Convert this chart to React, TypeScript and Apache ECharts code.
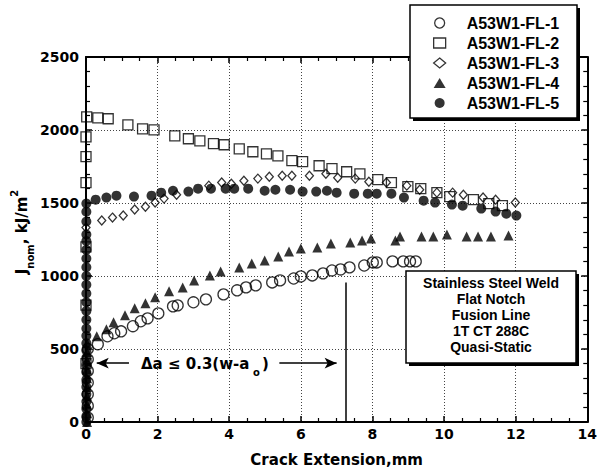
import React, { useEffect, useRef } from "react";
import * as echarts from "echarts";

const seriesNames = ["A53W1-FL-1", "A53W1-FL-2", "A53W1-FL-3", "A53W1-FL-4", "A53W1-FL-5"];

// Crack extension (mm), J (kJ/m^2)
const fl1: number[][] = [
  [0.05, 30], [0.05, 110], [0.05, 190], [0.05, 270], [0.05, 350], [0.05, 430], [0.05, 500],
  [0.33, 533], [0.6, 587], [0.79, 608], [0.98, 621], [1.31, 656], [1.53, 690], [1.72, 710],
  [2.02, 744], [2.43, 792], [2.56, 799], [3.0, 820], [3.35, 840], [3.84, 874], [4.22, 902],
  [4.47, 922], [4.74, 936], [5.2, 956], [5.42, 970], [5.8, 983], [6.0, 997], [6.32, 1004],
  [6.62, 1018], [6.87, 1038], [7.11, 1045], [7.36, 1059], [7.77, 1072], [8.01, 1093],
  [8.12, 1093], [8.56, 1100], [8.86, 1100], [9.05, 1100], [9.21, 1100],
];
const fl2: number[][] = [
  [0, 400], [0, 800], [0, 1200], [0, 1640], [0, 1817], [0, 1953], [0.02, 2090],
  [0.33, 2083], [0.62, 2077], [1.17, 2035], [1.58, 2008], [1.9, 2001], [2.48, 1960],
  [2.86, 1940], [3.18, 1926], [3.56, 1906], [3.86, 1899], [4.28, 1871], [4.66, 1851],
  [5.04, 1837], [5.36, 1823], [5.75, 1790], [6.05, 1783], [6.51, 1755], [6.87, 1735],
  [7.28, 1714], [7.65, 1700], [8.15, 1660], [8.53, 1640], [8.99, 1612], [9.35, 1598],
  [9.8, 1571], [10.16, 1544], [10.82, 1523], [11.25, 1496], [11.63, 1482],
];
const fl3: number[][] = [
  [0, 1332], [0.44, 1380], [0.74, 1400], [1.04, 1414], [1.36, 1455], [1.66, 1475],
  [1.93, 1503], [2.18, 1530], [2.53, 1557], [3.43, 1619], [3.79, 1640], [4.06, 1632],
  [4.41, 1653], [4.8, 1667], [5.12, 1680], [5.48, 1687], [5.75, 1687], [6.24, 1687],
  [6.7, 1700], [7.03, 1673], [7.52, 1667], [7.9, 1646], [8.39, 1640], [8.96, 1619],
  [9.32, 1591], [9.8, 1571], [10.24, 1571], [10.54, 1557], [11.09, 1537], [11.44, 1523],
  [11.99, 1503],
];
const fl4: number[][] = [
  [0.03, 0], [0.03, 60], [0.03, 120], [0.03, 180], [0.03, 240], [0.03, 300], [0.03, 360],
  [0.03, 420], [0.03, 480], [0.03, 540],
  [0.3, 587], [0.57, 635], [0.77, 683], [1.09, 731], [1.36, 779], [1.66, 813], [1.93, 854],
  [2.32, 895], [2.7, 922], [3.02, 970], [3.46, 1004], [3.76, 1031], [4.28, 1059],
  [4.63, 1086], [4.99, 1106], [5.37, 1134], [5.67, 1168], [6.0, 1188], [6.46, 1195],
  [6.84, 1223], [7.38, 1229], [7.71, 1243], [7.96, 1257], [8.64, 1243], [8.77, 1270],
  [9.37, 1270], [9.7, 1270], [10.08, 1284], [10.63, 1270], [10.95, 1270], [11.31, 1270],
  [11.8, 1277],
];
const fl5: number[][] = [
  [0.01, 0], [0.01, 40], [0.01, 90], [0.01, 140], [0.01, 190], [0.01, 240], [0.01, 290],
  [0.01, 340], [0.01, 390], [0.01, 440], [0.01, 490], [0.01, 540], [0.01, 590], [0.01, 640],
  [0.01, 700], [0.01, 760], [0.01, 820], [0.01, 880], [0.01, 940], [0.01, 1000],
  [0.01, 1060], [0.01, 1120], [0.01, 1180], [0.01, 1240], [0.01, 1284], [0.01, 1373],
  [0.01, 1440], [0.01, 1496],
  [0.27, 1523], [0.57, 1537], [0.85, 1550], [1.34, 1544], [1.83, 1550], [2.1, 1571],
  [2.43, 1584], [2.86, 1578], [3.13, 1598], [3.49, 1598], [3.9, 1598], [4.14, 1598],
  [4.53, 1598], [4.99, 1584], [5.29, 1591], [5.7, 1591], [6.05, 1578], [6.43, 1578],
  [6.73, 1584], [7.0, 1571], [7.49, 1564], [7.87, 1564], [8.12, 1564], [8.53, 1564],
  [8.88, 1537], [9.43, 1516], [9.75, 1503], [10.22, 1489], [10.52, 1482], [11.04, 1462],
  [11.44, 1441], [11.74, 1427], [12.02, 1414],
];

// annotation lines (data coordinates)
const limitLineX = 7.25;
const limitLineTop = 956;
const arrowY = 403;
const leftArrow = [1.2, 0.3];
const rightArrow = [5.4, 7.0];

const boxLines = ["Stainless Steel Weld", "Flat Notch", "Fusion Line", "1T CT 288C", "Quasi-Static"];

const BOLD_LAB = "'DejaVu Sans', sans-serif";
const BOLD_LEG = "'Liberation Sans', Arial, sans-serif";

export default function App() {
  const ref = useRef<HTMLDivElement>(null);
  useEffect(() => {
    const chart = echarts.init(ref.current!, null, { renderer: "svg" });
    const openStyle = { color: "rgba(255,255,255,0)", borderColor: "#000", borderWidth: 1.3 };
    const fillStyle = { color: "#000", borderColor: "#000", borderWidth: 0 };
    const symbols = ["circle", "rect", "diamond", "triangle", "circle"];
    const sizes: any[] = [11, 10, [8, 9], 10, 10];
    const styles = [openStyle, openStyle, openStyle, fillStyle, fillStyle];
    const datas = [fl1, fl2, fl3, fl4, fl5];

    const series: any[] = datas.map((d, i) => ({
      type: "scatter",
      name: seriesNames[i],
      data: d,
      symbol: symbols[i],
      symbolSize: sizes[i],
      itemStyle: styles[i],
      clip: false,
      silent: true,
      z: 3 + i,
    }));
    series[0].markLine = {
      silent: true,
      symbol: ["none", "arrow"],
      symbolSize: [8, 12],
      label: { show: false },
      lineStyle: { color: "#000", type: "solid", width: 1.5 },
      emphasis: { disabled: true },
      data: [
        [{ coord: [leftArrow[0], arrowY] }, { coord: [leftArrow[1], arrowY] }],
        [{ coord: [rightArrow[0], arrowY] }, { coord: [rightArrow[1], arrowY] }],
        [
          { coord: [limitLineX, 0], symbol: "none" },
          { coord: [limitLineX, limitLineTop], symbol: "none" },
        ],
      ],
    };

    const axisCommon = {
      axisLine: { show: true, onZero: false, lineStyle: { color: "#000", width: 2 } },
      axisTick: { show: true, inside: true, length: 6, lineStyle: { color: "#000", width: 1.5 } },
      minorTick: { show: true, length: 4, lineStyle: { color: "#000", width: 1.2 } },
    };
    const labelStyle = {
      color: "#000", fontFamily: BOLD_LAB, fontWeight: "bold", fontSize: 14,
      formatter: (v: number) => String(v),
    };
    const splitStyle = { show: true, lineStyle: { color: "#444", type: [1, 2], width: 1 } };
    const titleFont = `bold 15px ${BOLD_LAB}`;
    const subFont = `bold 10px ${BOLD_LAB}`;

    const option: any = {
      animation: false,
      backgroundColor: "#fff",
      grid: { left: 86, top: 57, width: 512, height: 366, containLabel: false },
      xAxis: [
        {
          type: "value", min: 0, max: 14, interval: 2, position: "bottom",
          ...axisCommon,
          minorTick: { ...axisCommon.minorTick, splitNumber: 4 },
          axisLabel: { ...labelStyle, margin: 5 },
          splitLine: splitStyle,
          name: "Crack Extension,mm",
          nameLocation: "middle",
          nameGap: 30,
          nameTextStyle: { color: "#000", fontFamily: BOLD_LAB, fontWeight: "bold", fontSize: 15 },
        },
        {
          type: "value", min: 0, max: 14, interval: 2, position: "top",
          ...axisCommon,
          minorTick: { ...axisCommon.minorTick, splitNumber: 4 },
          axisLabel: { show: false },
          splitLine: { show: false },
        },
      ],
      yAxis: [
        {
          type: "value", min: 0, max: 2500, interval: 500, position: "left",
          ...axisCommon,
          minorTick: { ...axisCommon.minorTick, splitNumber: 5 },
          axisLabel: { ...labelStyle, margin: 7 },
          splitLine: splitStyle,
        },
        {
          type: "value", min: 0, max: 2500, interval: 500, position: "right",
          ...axisCommon,
          minorTick: { ...axisCommon.minorTick, splitNumber: 5 },
          axisLabel: { show: false },
          splitLine: { show: false },
        },
      ],
      legend: {
        orient: "vertical",
        left: 433,
        top: 14,
        padding: 0,
        itemWidth: 12,
        itemHeight: 10,
        itemGap: 2,
        z: 60,
        selectedMode: false,
        textStyle: {
          color: "#000", fontFamily: BOLD_LEG, fontWeight: "bold", fontSize: 16,
          lineHeight: 18, padding: [0, 0, 0, 16],
        },
        data: seriesNames.map((n, i) => ({
          name: n,
          icon: symbols[i],
          itemStyle: styles[i],
        })),
      },
      graphic: [
        { type: "rect", z: 50, shape: { x: 413, y: 8, width: 167, height: 113 }, style: { fill: "#000" } },
        { type: "rect", z: 51, shape: { x: 410, y: 5, width: 167, height: 113 }, style: { fill: "#fff", stroke: "#000", lineWidth: 1.5 } },
        { type: "rect", z: 50, shape: { x: 409, y: 274, width: 170, height: 92 }, style: { fill: "#000" } },
        { type: "rect", z: 51, shape: { x: 406, y: 271, width: 170, height: 92 }, style: { fill: "#fff", stroke: "#000", lineWidth: 1.5 } },
        ...boxLines.map((t, i) => ({
          type: "text", z: 52, x: 491, y: 283 + i * 16,
          style: {
            text: t, fill: "#000", font: `bold 14px ${BOLD_LEG}`,
            textAlign: "center", textVerticalAlign: "middle",
          },
        })),
        {
          type: "text", z: 52, x: 141, y: 364,
          style: { text: "Δa ≤ 0.3(w-a", fill: "#000", font: titleFont, textAlign: "left", textVerticalAlign: "middle" },
        },
        {
          type: "text", z: 52, x: 253, y: 372,
          style: { text: "o", fill: "#000", font: subFont, textAlign: "left", textVerticalAlign: "middle" },
        },
        {
          type: "text", z: 52, x: 262, y: 364,
          style: { text: ")", fill: "#000", font: titleFont, textAlign: "left", textVerticalAlign: "middle" },
        },
        {
          type: "text", z: 52, x: 22, y: 232, rotation: Math.PI / 2,
          style: {
            text: "{a|J}{b|nom}{a|, kJ/m}{c|2}",
            textAlign: "center", textVerticalAlign: "middle",
            rich: {
              a: { fill: "#000", font: titleFont, lineHeight: 26, verticalAlign: "middle" },
              b: { fill: "#000", font: subFont, lineHeight: 12, verticalAlign: "bottom" },
              c: { fill: "#000", font: subFont, lineHeight: 12, verticalAlign: "top" },
            },
          },
        },
      ],
      series,
    };
    chart.setOption(option);
    return () => chart.dispose();
  }, []);
  return (
    <div
      ref={ref}
      style={{ position: "fixed", left: 0, top: 0, width: 600, height: 472, background: "#fff" }}
    />
  );
}
